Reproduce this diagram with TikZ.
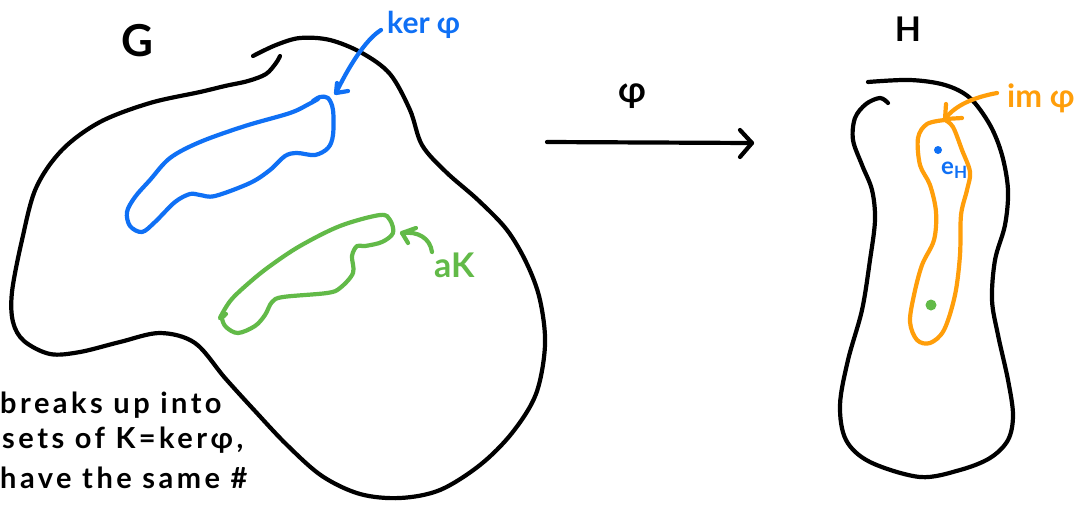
\documentclass[tikz,border=0pt]{standalone}
\usepackage{fontspec}
\setmainfont{Lato}
\usetikzlibrary{arrows.meta}
\definecolor{kblue}{RGB}{15,112,245}
\definecolor{kgreen}{RGB}{98,186,72}
\definecolor{korange}{RGB}{255,158,10}
\tikzset{
  ink/.style={line width=4.2pt, line cap=round, line join=round},
  blob/.style={ink, smooth, tension=0.55},
  lbl/.style={inner sep=0pt, font=\bfseries},
  notetext/.style={lbl, anchor=base west, font=\fontsize{29}{29}\selectfont\bfseries\addfontfeature{LetterSpace=12}},
}
\begin{document}
\begin{tikzpicture}[x=1pt,y=-1pt]
\useasboundingbox (0,0) rectangle (1078,504);
\clip (0,0) rectangle (1078,504);
\fill[white] (0,0) rectangle (1078,504);

% ---------- group G ----------
\draw[blob, black] plot coordinates {(280,56) (276,63) (266,74) (248,81) (225,86) (200,92) (150,103) (100,122) (62,150) (36,188) (22,240) (12,292) (13,322) (24,341) (50,354) (80,352) (120,342) (160,333) (195,343) (225,378) (255,411) (287,445) (322,476) (360,494) (400,498) (440,490) (480,465) (512,433) (536,394) (545,345) (540,300) (527,264) (507,230) (478,200) (446,172) (422,145) (410,110) (390,74) (362,53) (330,40) (300,38) (276,45) (253,56)};

% ker phi region (blue)
\draw[blob, kblue] plot coordinates {(313,101) (320,97) (328,98) (333,110) (333,135) (328,148) (315,155) (297,153) (285,156) (270,170) (250,183) (215,196) (200,195) (190,194) (175,202) (155,222) (142,232) (130,226) (127,212) (135,197) (150,180) (170,158) (200,142) (245,126) (290,113) (309,104) (318,99)};

% coset aK (green)
\draw[blob, kgreen] plot coordinates {(225,315) (220,318) (231,300) (250,282) (270,266) (300,246) (340,226) (380,215) (390,220) (393,233) (382,242) (365,246) (357,246) (352,256) (353,273) (340,288) (327,293) (283,297) (272,302) (265,315) (255,326) (238,333) (226,327) (222,318) (226,314)};

% labels in G
\node[lbl, font=\fontsize{44}{44}\selectfont\bfseries] (Glabel) at (137,41) {G};
\node[lbl, text=kblue, anchor=base west, font=\fontsize{30}{30}\selectfont\bfseries] (kerlabel) at (387,33) {ker φ};
\node[lbl, text=kgreen, anchor=base west, font=\fontsize{34}{34}\selectfont\bfseries] (aKlabel) at (434,277) {aK};

\coordinate (kertail) at (381,30);
\coordinate (kertip) at (336,93);
\draw[ink, kblue] (kertail) .. controls (365,40) and (348,68) .. (kertip);
\draw[ink, kblue] (337,83) -- (kertip) -- (348,91);

\coordinate (aKtail) at (432,252);
\coordinate (aKtip) at (402,233);
\draw[ink, kgreen] (aKtail) .. controls (430,238) and (418,231) .. (aKtip);
\draw[ink, kgreen] (416,228) -- (aKtip) -- (408,243);

% ---------- map phi ----------
\coordinate (mapstart) at (547,142);
\coordinate (mapend) at (752,143);
\draw[ink] (mapstart) -- (mapend);
\draw[ink] (740,130) -- (mapend) -- (740,157);
\node[lbl, font=\fontsize{36}{36}\selectfont\bfseries] (philabel) at (632,96) {φ};

% ---------- group H ----------
\draw[blob, black] plot coordinates {(888,103) (880,98) (866,104) (855,118) (853,140) (862,165) (872,190) (875,220) (870,260) (862,310) (848,360) (840,405) (846,440) (870,462) (920,477) (960,470) (990,458) (1008,440) (1013,415) (1008,380) (998,335) (992,300) (995,260) (1005,225) (1008,190) (1002,155) (990,125) (970,98) (945,85) (910,80) (868,82)};

% image region (orange)
\draw[blob, korange] plot coordinates {(945,120) (927,124) (918,138) (920,165) (930,185) (936,212) (934,240) (922,265) (914,295) (910,322) (917,340) (930,343) (944,330) (955,295) (960,255) (961,215) (967,190) (970,172) (962,150) (953,127) (945,120)};

\node[lbl, font=\fontsize{34}{34}\selectfont\bfseries] (Hlabel) at (908,29) {H};
\node[lbl, text=korange, anchor=base west, font=\fontsize{32}{32}\selectfont\bfseries] (imlabel) at (1007,107) {im φ};

\coordinate (imtail) at (997,93);
\coordinate (imtip) at (945,119);
\draw[ink, korange] (imtail) .. controls (975,97) and (955,105) .. (imtip);
\draw[ink, korange] (946,104) -- (imtip) -- (962,118);

% identity and image point
\fill[kblue] (938,150) circle (4pt);
\node[lbl, text=kblue, anchor=base west, font=\fontsize{24}{24}\selectfont\bfseries] (eH) at (941,174) {e\raisebox{-0.35ex}{\fontsize{17}{17}\selectfont\bfseries H}};
\fill[kgreen] (931,305) circle (5.5pt);

% ---------- note ----------
\node[notetext] (note1) at (0,413) {breaks up into};
\node[notetext] (note2) at (2,448) {sets of K=kerφ,};
\node[notetext] (note3) at (0,488) {have the same \#};
\end{tikzpicture}
\end{document}
